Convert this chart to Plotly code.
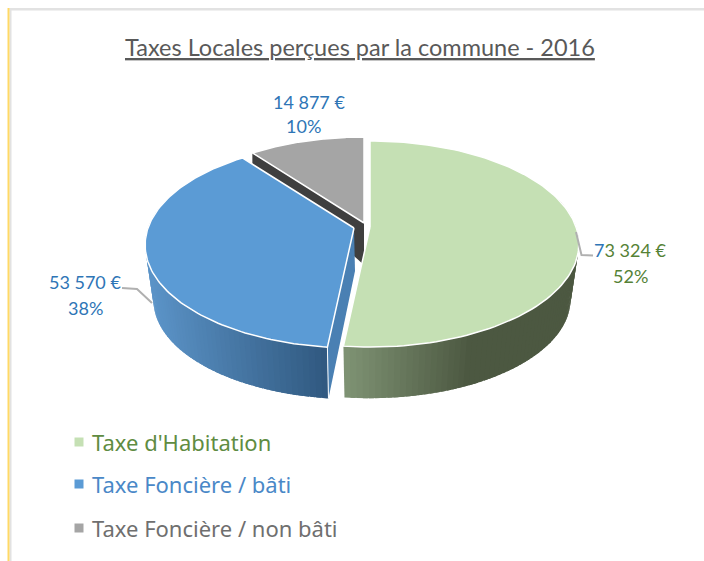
import numpy as np
import plotly.graph_objects as go

# ---- data ----
categories = ["Taxe d'Habitation", "Taxe Foncière / bâti", "Taxe Foncière / non bâti"]
values = [73324, 53570, 14877]
title = "Taxes Locales perçues par la commune - 2016"

# ---- style ----
top_colors = ["#c5e0b4", "#5b9bd5", "#a5a5a5"]
text_colors = ["#5f8c42", "#4a88c7", "#6f6f6f"]
label_color = ["#558236", "#2e75b6", "#2e75b6"]
apex = [(370, 227), (354, 228), (364, 223)]
K, P, S = 100.2, 0.165, 206.0      # pseudo-perspective of the disc
BOTTOM_SCALE, BOTTOM_DY = 0.96, 56
FONT = "Noto Sans"
LABEL_FONT = "Lato"

total = sum(values)
fractions = [v / total for v in values]
edges = np.concatenate([[0], np.cumsum(fractions)]) * 360


def project(theta_deg, centre, bottom=False):
    t = np.radians(theta_deg)
    den = 1 + P * np.cos(t)
    dx = S * np.sin(t) / den
    dy = -K * np.cos(t) / den
    if bottom:
        return centre[0] + BOTTOM_SCALE * dx, centre[1] + BOTTOM_SCALE * dy + BOTTOM_DY
    return centre[0] + dx, centre[1] + dy


def mix(a, b, t):
    t = max(0.0, min(1.0, t))
    return "rgb(%d,%d,%d)" % tuple(round(x + (y - x) * t) for x, y in zip(a, b))


fig = go.Figure()


def poly(xs, ys, fill, line=None, width=0.0):
    fig.add_trace(go.Scatter(
        x=list(xs), y=list(ys), mode="lines", fill="toself", fillcolor=fill,
        line=dict(color=line or fill, width=width), hoverinfo="skip", showlegend=False))


# dark cut face behind the non-built slice
c = apex[2]
x0, y0 = project(edges[2], c)
poly([x0, c[0], c[0], x0], [y0, c[1], c[1] + 42, y0 + 12], "#3f3f3f")

# outer walls: overlapping gradient bands, painted one over the next
wall_ranges = [(edges[1], 70), (282, edges[1])]
wall_ramps = [((126, 146, 115), (76, 88, 65), 346, 125), ((91, 147, 199), (48, 88, 127), 150, 178)]
for i in [0, 1]:
    a, b = wall_ranges[i]
    th = np.linspace(a, b, int(abs(b - a) / 1.5) + 2)
    step = th[1] - th[0]
    c0, c1, xs, span = wall_ramps[i]
    for k, t0 in enumerate(th[:-1]):
        t1 = t0 + step * (1.8 if k < len(th) - 2 else 1.0)
        xa, ya = project(t0, apex[i])
        xb, yb = project(t1, apex[i])
        xc, yc = project(t1, apex[i], True)
        xd, yd = project(t0, apex[i], True)
        xm = project(t0 + step / 2, apex[i])[0]
        poly([xa, xb, xc, xd], [ya, yb, yc, yd], mix(c0, c1, (xm - xs) / span))

# inner cut face of the built slice
c = apex[1]
xe, ye = project(edges[1], c)
xf, yf = project(edges[1], c, True)
poly([c[0], xe, xf, c[0] + 1], [c[1], ye, yf, c[1] + 43], "#4a80b3")

# top faces
for i in [2, 0, 1]:
    th = np.linspace(edges[i], edges[i + 1], 120)
    xs, ys = project(th, apex[i])
    poly(np.r_[apex[i][0], xs, apex[i][0]], np.r_[apex[i][1], ys, apex[i][1]],
         top_colors[i], line="#ffffff", width=1.5)
# front edge of blue slice, wall divider
poly([xe, xf], [ye, yf], "#ffffff", line="#ffffff", width=1)

# leader lines
fig.add_trace(go.Scatter(x=[576, 581.5, 593], y=[232, 255, 255.5], mode="lines",
                         line=dict(color="#b0b0b0", width=2), hoverinfo="skip", showlegend=False))
fig.add_trace(go.Scatter(x=[122, 137, 152], y=[288, 289, 303], mode="lines",
                         line=dict(color="#b0b0b0", width=2), hoverinfo="skip", showlegend=False))

# legend squares
legend_y = [442, 484, 528]
fig.add_trace(go.Scatter(x=[79, 79, 79], y=legend_y, mode="markers",
                         marker=dict(symbol="square", size=9, color=top_colors, line=dict(width=0)),
                         hoverinfo="skip", showlegend=False))


def euro(v):
    s = f"{v:,}".replace(",", " ")
    return s + " €"


def pct(v):
    return f"{round(100 * v / total)}%"


ann = []
ann.append(dict(x=360, y=47, text=title, font=dict(family=LABEL_FONT, size=23.5, color="#595959", lineposition="under")))
label_pos = [(630, 250, 630, 276), (85, 282, 85, 308), (309, 102, 303, 126)]
for i, (xa, ya, xb, yb) in enumerate(label_pos):
    txt = euro(values[i])
    if i == 0:
        txt = '<span style="color:#2e75b6">' + txt[0] + "</span>" + txt[1:]
    ann.append(dict(x=xa, y=ya, text=txt, font=dict(family=LABEL_FONT, size=18, color=label_color[i])))
    ann.append(dict(x=xb, y=yb, text=pct(values[i]), font=dict(family=LABEL_FONT, size=18, color=label_color[i])))
for name, ly, col in zip(categories, legend_y, text_colors):
    ann.append(dict(x=90, y=ly, text=name, xanchor="left", font=dict(family=FONT, size=22, color=col)))
for a in ann:
    a.update(xref="x", yref="y", showarrow=False)
    a.setdefault("xanchor", "center")
    a["yanchor"] = "middle"

shapes = [
    dict(type="rect", xref="x", yref="y", x0=9.5, x1=704, y0=8, y1=10.5, fillcolor="#e2e2e2", line_width=0, layer="below"),
    dict(type="rect", xref="x", yref="y", x0=9.5, x1=11.5, y0=8, y1=561, fillcolor="#e2e2e2", line_width=0, layer="below"),
    dict(type="rect", xref="x", yref="y", x0=7.5, x1=9.5, y0=8, y1=561, fillcolor="#ffd966", line_width=0, layer="below"),
]

fig.update_layout(
    width=704, height=561, margin=dict(l=0, r=0, t=0, b=0),
    paper_bgcolor="white", plot_bgcolor="white", showlegend=False,
    xaxis=dict(range=[0, 704], visible=False, fixedrange=True),
    yaxis=dict(range=[561, 0], visible=False, fixedrange=True),
    annotations=ann, shapes=shapes,
)
fig.write_html("out.html", config=dict(displayModeBar=False),
               post_script="document.body.style.margin='0';document.body.style.overflow='hidden';")
